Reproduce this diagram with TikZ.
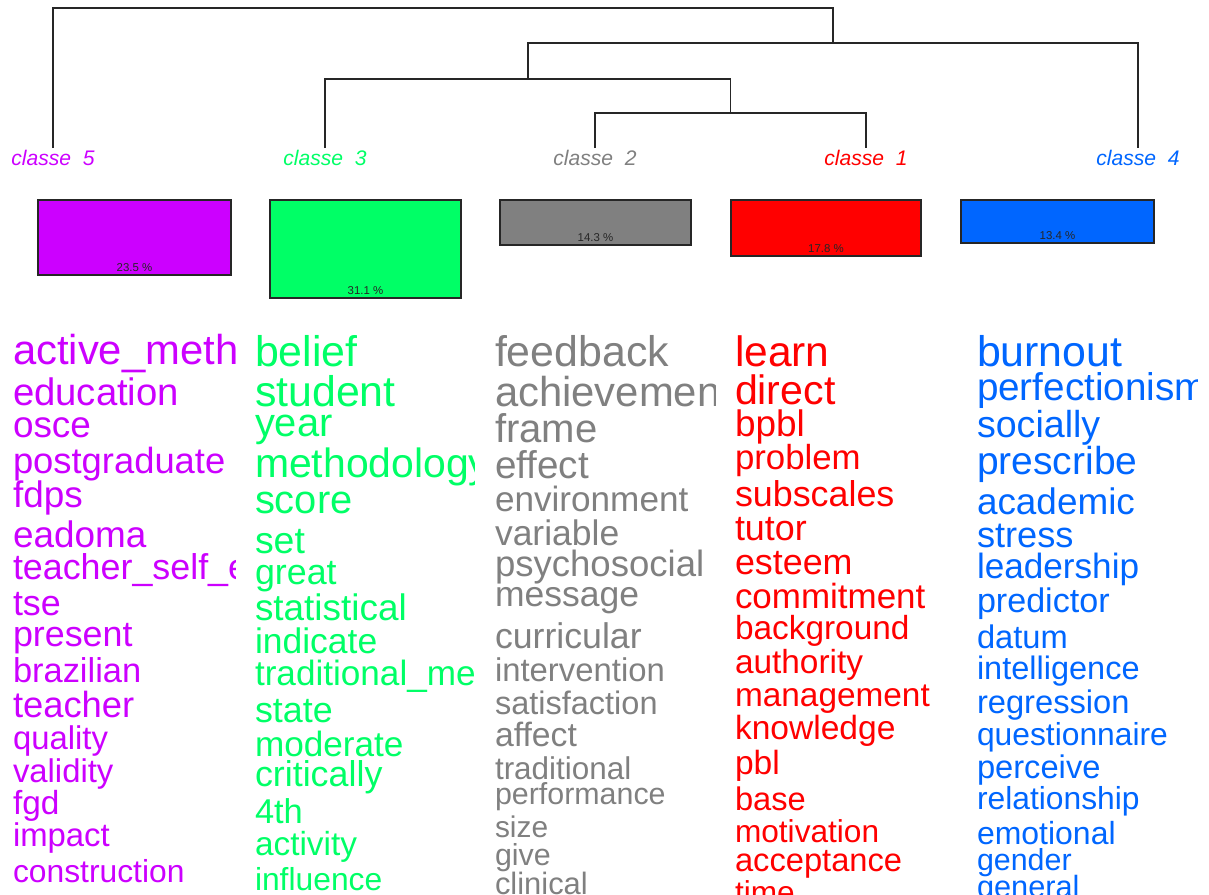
\documentclass[tikz,border=0pt]{standalone}
\usepackage{fontspec}
\setmainfont{Liberation Sans}

\definecolor{c5col}{HTML}{CC00FF}
\definecolor{c3col}{HTML}{00FF66}
\definecolor{c2col}{HTML}{808080}
\definecolor{c1col}{HTML}{FF0000}
\definecolor{c4col}{HTML}{0066FF}

\newcommand{\wsize}[1]{\fontsize{#1pt}{#1pt}\selectfont}

\tikzset{
  word/.style={anchor=mid west, inner sep=0pt, outer sep=0pt},
  cls/.style={font=\itshape\fontsize{12}{12}\selectfont, inner sep=0pt},
  pct/.style={font=\fontsize{6.5}{6.5}\selectfont, inner sep=0pt, text=black!85},
  tree/.style={line width=0.8pt, black!85},
  bar/.style={draw=black!85, line width=0.8pt},
}

\begin{document}
\begin{tikzpicture}[x=0.02cm, y=-0.02cm]
\useasboundingbox (0,0) rectangle (1209,894);

% dendrogram
\coordinate (leaf5) at (53,148);
\coordinate (leaf3) at (325,148);
\coordinate (leaf2) at (595,148);
\coordinate (leaf1) at (866,148);
\coordinate (leaf4) at (1138,148);
\coordinate (j21) at (730.5,113);
\coordinate (j321) at (528,79);
\coordinate (j4321) at (833,43);
\coordinate (root) at (442.5,8);
\draw[tree] (leaf2) |- (j21) -| (leaf1);
\draw[tree] (leaf3) |- (j321) -| (j21);
\draw[tree] (j321) |- (j4321) -| (leaf4);
\draw[tree] (leaf5) |- (root) -| (j4321);

% class labels
\node[cls, text=c5col] (cl5) at (53,158) {classe\ \ 5};
\node[cls, text=c3col] (cl3) at (325,158) {classe\ \ 3};
\node[cls, text=c2col] (cl2) at (595,158) {classe\ \ 2};
\node[cls, text=c1col] (cl1) at (866,158) {classe\ \ 1};
\node[cls, text=c4col] (cl4) at (1138,158) {classe\ \ 4};

% bars
\draw[bar, fill=c5col] (38,200) rectangle (231,275);
\draw[bar, fill=c3col] (270,200) rectangle (461,298);
\draw[bar, fill=c2col] (500,200) rectangle (691,245);
\draw[bar, fill=c1col] (731,200) rectangle (921,256);
\draw[bar, fill=c4col] (961,200) rectangle (1154,243);
\node[pct] (p5) at (134.5,268) {23.5 \%};
\node[pct] (p3) at (365.5,291) {31.1 \%};
\node[pct] (p2) at (595.5,238) {14.3 \%};
\node[pct] (p1) at (826,249) {17.8 \%};
\node[pct] (p4) at (1057.5,236) {13.4 \%};

% classe 5
\begin{scope}
\clip (0,320) rectangle (235,894);
\node[word, text=c5col, font=\wsize{23.8}] (c5w1) at (13,360) {active\_methodology};
\node[word, text=c5col, font=\wsize{21.8}] (c5w2) at (13,401) {education};
\node[word, text=c5col, font=\wsize{21}] (c5w3) at (13,433) {osce};
\node[word, text=c5col, font=\wsize{20.7}] (c5w4) at (13,469) {postgraduate};
\node[word, text=c5col, font=\wsize{21}] (c5w5) at (13,503) {fdps};
\node[word, text=c5col, font=\wsize{21}] (c5w6) at (13,543) {eadoma};
\node[word, text=c5col, font=\wsize{20.4}] (c5w7) at (13,575) {teacher\_self\_efficacy};
\node[word, text=c5col, font=\wsize{20.4}] (c5w8) at (13,611) {tse};
\node[word, text=c5col, font=\wsize{20.4}] (c5w9) at (13,642) {present};
\node[word, text=c5col, font=\wsize{19.6}] (c5w10) at (13,678) {brazilian};
\node[word, text=c5col, font=\wsize{20.7}] (c5w11) at (13,713) {teacher};
\node[word, text=c5col, font=\wsize{18.7}] (c5w12) at (13,745) {quality};
\node[word, text=c5col, font=\wsize{18.7}] (c5w13) at (13,778) {validity};
\node[word, text=c5col, font=\wsize{19}] (c5w14) at (13,810) {fgd};
\node[word, text=c5col, font=\wsize{18.7}] (c5w15) at (13,842) {impact};
\node[word, text=c5col, font=\wsize{18.1}] (c5w16) at (13,878) {construction};
\end{scope}

% classe 3
\begin{scope}
\clip (240,320) rectangle (474,894);
\node[word, text=c3col, font=\wsize{24.4}] (c3w1) at (255,362) {belief};
\node[word, text=c3col, font=\wsize{24.4}] (c3w2) at (255,402) {student};
\node[word, text=c3col, font=\wsize{22.7}] (c3w3) at (255,432) {year};
\node[word, text=c3col, font=\wsize{23.3}] (c3w4) at (255,473) {methodology};
\node[word, text=c3col, font=\wsize{22.7}] (c3w5) at (255,509) {score};
\node[word, text=c3col, font=\wsize{21.3}] (c3w6) at (255,549) {set};
\node[word, text=c3col, font=\wsize{20.4}] (c3w7) at (255,580) {great};
\node[word, text=c3col, font=\wsize{21}] (c3w8) at (255,616) {statistical};
\node[word, text=c3col, font=\wsize{20.2}] (c3w9) at (255,649) {indicate};
\node[word, text=c3col, font=\wsize{20}] (c3w10) at (255,681) {traditional\_method};
\node[word, text=c3col, font=\wsize{20.4}] (c3w11) at (255,718) {state};
\node[word, text=c3col, font=\wsize{20}] (c3w12) at (255,752) {moderate};
\node[word, text=c3col, font=\wsize{20.4}] (c3w13) at (255,782) {critically};
\node[word, text=c3col, font=\wsize{19.6}] (c3w14) at (255,819) {4th};
\node[word, text=c3col, font=\wsize{19}] (c3w15) at (255,851) {activity};
\node[word, text=c3col, font=\wsize{18.1}] (c3w16) at (255,886) {influence};
\end{scope}

% classe 2
\begin{scope}
\clip (480,320) rectangle (715,894);
\node[word, text=c2col, font=\wsize{24.4}] (c2w1) at (495,362) {feedback};
\node[word, text=c2col, font=\wsize{23.8}] (c2w2) at (495,402) {achievement};
\node[word, text=c2col, font=\wsize{22.8}] (c2w3) at (495,438) {frame};
\node[word, text=c2col, font=\wsize{22}] (c2w4) at (495,474) {effect};
\node[word, text=c2col, font=\wsize{20}] (c2w5) at (495,507) {environment};
\node[word, text=c2col, font=\wsize{20.2}] (c2w6) at (495,541) {variable};
\node[word, text=c2col, font=\wsize{20.8}] (c2w7) at (495,572) {psychosocial};
\node[word, text=c2col, font=\wsize{20.2}] (c2w8) at (495,602) {message};
\node[word, text=c2col, font=\wsize{20.3}] (c2w9) at (495,644) {curricular};
\node[word, text=c2col, font=\wsize{18.7}] (c2w10) at (495,677) {intervention};
\node[word, text=c2col, font=\wsize{18.5}] (c2w11) at (495,710) {satisfaction};
\node[word, text=c2col, font=\wsize{19.2}] (c2w12) at (495,742) {affect};
\node[word, text=c2col, font=\wsize{17.9}] (c2w13) at (495,775) {traditional};
\node[word, text=c2col, font=\wsize{17.3}] (c2w14) at (495,800) {performance};
\node[word, text=c2col, font=\wsize{17}] (c2w15) at (495,833) {size};
\node[word, text=c2col, font=\wsize{17.3}] (c2w16) at (495,861) {give};
\node[word, text=c2col, font=\wsize{17.6}] (c2w17) at (495,890) {clinical};
\end{scope}

% classe 1
\begin{scope}
\clip (720,320) rectangle (957,894);
\node[word, text=c1col, font=\wsize{24.2}] (c1w1) at (735,362) {learn};
\node[word, text=c1col, font=\wsize{23.4}] (c1w2) at (735,400) {direct};
\node[word, text=c1col, font=\wsize{21}] (c1w3) at (735,432) {bpbl};
\node[word, text=c1col, font=\wsize{19.8}] (c1w4) at (735,465) {problem};
\node[word, text=c1col, font=\wsize{20.4}] (c1w5) at (735,502) {subscales};
\node[word, text=c1col, font=\wsize{20.4}] (c1w6) at (735,536) {tutor};
\node[word, text=c1col, font=\wsize{20.4}] (c1w7) at (735,570) {esteem};
\node[word, text=c1col, font=\wsize{19.9}] (c1w8) at (735,604) {commitment};
\node[word, text=c1col, font=\wsize{19}] (c1w9) at (735,635) {background};
\node[word, text=c1col, font=\wsize{19}] (c1w10) at (735,669) {authority};
\node[word, text=c1col, font=\wsize{19}] (c1w11) at (735,702) {management};
\node[word, text=c1col, font=\wsize{19.1}] (c1w12) at (735,735) {knowledge};
\node[word, text=c1col, font=\wsize{19.1}] (c1w13) at (735,770) {pbl};
\node[word, text=c1col, font=\wsize{18.6}] (c1w14) at (735,806) {base};
\node[word, text=c1col, font=\wsize{18}] (c1w15) at (735,838) {motivation};
\node[word, text=c1col, font=\wsize{18.6}] (c1w16) at (735,867) {acceptance};
\node[word, text=c1col, font=\wsize{18}] (c1w17) at (735,899) {time};
\end{scope}

% classe 4
\begin{scope}
\clip (960,320) rectangle (1197,894);
\node[word, text=c4col, font=\wsize{24.4}] (c4w1) at (977,362) {burnout};
\node[word, text=c4col, font=\wsize{22}] (c4w2) at (977,396) {perfectionism};
\node[word, text=c4col, font=\wsize{21.4}] (c4w3) at (977,433) {socially};
\node[word, text=c4col, font=\wsize{22.2}] (c4w4) at (977,470) {prescribe};
\node[word, text=c4col, font=\wsize{21}] (c4w5) at (977,510) {academic};
\node[word, text=c4col, font=\wsize{20.6}] (c4w6) at (977,543) {stress};
\node[word, text=c4col, font=\wsize{20}] (c4w7) at (977,574) {leadership};
\node[word, text=c4col, font=\wsize{19.4}] (c4w8) at (977,608) {predictor};
\node[word, text=c4col, font=\wsize{18.6}] (c4w9) at (977,644) {datum};
\node[word, text=c4col, font=\wsize{18.5}] (c4w10) at (977,675) {intelligence};
\node[word, text=c4col, font=\wsize{18.6}] (c4w11) at (977,709) {regression};
\node[word, text=c4col, font=\wsize{18.1}] (c4w12) at (977,741) {questionnaire};
\node[word, text=c4col, font=\wsize{18.6}] (c4w13) at (977,774) {perceive};
\node[word, text=c4col, font=\wsize{18.1}] (c4w14) at (977,805) {relationship};
\node[word, text=c4col, font=\wsize{18.2}] (c4w15) at (977,840) {emotional};
\node[word, text=c4col, font=\wsize{17.3}] (c4w16) at (977,866) {gender};
\node[word, text=c4col, font=\wsize{17.5}] (c4w17) at (977,893) {general};
\end{scope}
\end{tikzpicture}
\end{document}
